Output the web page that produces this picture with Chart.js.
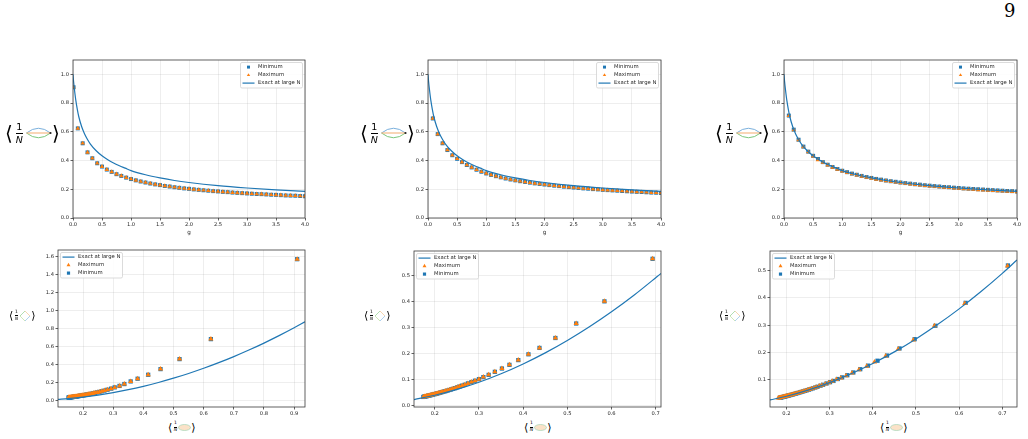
<!DOCTYPE html>
<html>
<head>
<meta charset="utf-8">
<script src="https://cdn.jsdelivr.net/npm/chart.js@4.4.1/dist/chart.umd.min.js"></script>
<style>
  body { margin:0; background:#fff; width:1028px; height:439px; overflow:hidden; position:relative; font-family:"DejaVu Sans", sans-serif; }
  .plot { position:absolute; }
  .lab { position:absolute; display:flex; align-items:center; color:#000; z-index:2; white-space:nowrap; }
  .frac { display:inline-flex; flex-direction:column; align-items:center; line-height:1; }
  .frac .bar { align-self:stretch; border-top:0.8px solid #000; }
  .big .br { font-size:20px; line-height:1; }
  .big .frac { font-size:9.5px; margin:0 2px 0 3px; }
  .big .bar { margin:1px 0; }
  .small .br { font-size:11px; line-height:1; }
  .small .frac { font-size:4.6px; margin:0 1px 0 1.5px; }
  .small .bar { margin:0.5px 0; border-top-width:0.5px; }
  #page { position:absolute; left:1004px; top:0px; font:18px "DejaVu Serif", serif; color:#000; }
</style>
</head>
<body>
<div id="page">9</div>
<div class="plot" id="w1"><canvas id="c1"></canvas></div>
<div class="plot" id="w2"><canvas id="c2"></canvas></div>
<div class="plot" id="w3"><canvas id="c3"></canvas></div>
<div class="plot" id="w4"><canvas id="c4"></canvas></div>
<div class="plot" id="w5"><canvas id="c5"></canvas></div>
<div class="plot" id="w6"><canvas id="c6"></canvas></div>
<script>
// ---- data ----
const gGrid = [0.083,0.167,0.25,0.333,0.417,0.5,0.583,0.667,0.75,0.833,0.917,1,
  1.083,1.167,1.25,1.333,1.417,1.5,1.583,1.667,1.75,1.833,1.917,2,
  2.083,2.167,2.25,2.333,2.417,2.5,2.583,2.667,2.75,2.833,2.917,3,
  3.083,3.167,3.25,3.333,3.417,3.5,3.583,3.667,3.75,3.833,3.917,4];
const gP1 = [0.01].concat(gGrid); // first panel has an extra point near g=0

// exact large N curve (top row)
const gExact = [0,0.01,0.025,0.05,0.075,0.1,0.15,0.2,0.25,0.3,0.4,0.5,0.6,0.7,0.8,0.9,1.0,1.25,1.5,1.75,2,2.5,3,3.5,4];
const vExact = [1.0,0.95,0.895,0.815,0.755,0.705,0.635,0.585,0.547,0.515,0.468,0.433,0.406,0.383,0.364,0.347,0.33,0.301,0.279,0.261,0.247,0.225,0.209,0.196,0.185];

// panel 1 (min and max coincide at this resolution)
const min1 = [0.91,0.624,0.520,0.457,0.416,0.381,0.358,0.337,0.321,0.305,0.293,0.281,
  0.271,0.262,0.254,0.247,0.240,0.234,0.229,0.223,0.219,0.214,0.210,0.206,0.203,0.199,
  0.196,0.193,0.190,0.187,0.185,0.182,0.180,0.177,0.175,0.173,0.171,0.169,0.167,0.166,
  0.164,0.162,0.161,0.159,0.157,0.156,0.155,0.153,0.152];
const max1 = min1;
// panel 2
const min2 = [0.693,0.584,0.520,0.473,0.437,0.412,0.389,0.369,0.352,0.336,0.322,0.310,
  0.300,0.291,0.283,0.275,0.268,0.262,0.256,0.251,0.246,0.241,0.237,0.233,0.229,0.225,
  0.222,0.218,0.215,0.212,0.209,0.206,0.204,0.201,0.199,0.196,0.194,0.192,0.190,0.188,
  0.186,0.184,0.182,0.181,0.179,0.177,0.176,0.174];
const max2 = min2;
// panel 3
const min3 = [.713,.615,.545,.497,.462,.433,.411,.389,.371,.355,.341,.329,.319,.309,.301,.293,
  .285,.279,.272,.267,.261,.256,.252,.247,.243,.239,.235,.232,.228,.225,.222,.219,.216,.214,
  .211,.209,.206,.204,.202,.200,.198,.196,.194,.192,.190,.188,.187,.185];
const max3 = [.712,.613,.543,.494,.459,.430,.404,.386,.368,.352,.338,.326,.316,.306,.298,.290,
  .282,.276,.269,.264,.258,.253,.249,.244,.240,.236,.232,.229,.225,.222,.219,.216,.213,.211,
  .208,.205,.202,.200,.198,.196,.194,.192,.190,.188,.186,.184,.183,.181];

// bottom row: x = bubble values above, y = diamond values
const y4 = [1.572,0.684,0.462,0.351,0.288,0.244,0.214,0.185,0.164,0.148,0.134,0.122,
  0.112,0.104,0.0978,0.0918,0.0870,0.0821,0.0783,0.0748,0.0717,0.0689,0.0663,0.0638,0.0616,
  0.0596,0.0577,0.0558,0.0542,0.0526,0.0512,0.0498,0.0484,0.0472,0.0460,0.0450,0.0439,0.0429,
  0.0420,0.0411,0.0402,0.0394,0.0386,0.0379,0.0372,0.0365,0.0358,0.0352,0.0346];
const y5 = [0.563,0.400,0.315,0.2595,0.2215,0.197,0.1748,0.1566,0.1425,0.1298,0.1182,0.1096,
  0.1017,0.0957,0.0905,0.0855,0.0804,0.0769,0.0734,0.0706,0.0672,0.0645,0.0623,0.0603,0.0582,
  0.0562,0.0547,0.0528,0.0513,0.0499,0.0485,0.0471,0.0462,0.0448,0.0440,0.0426,0.0418,0.0409,
  0.0401,0.0392,0.0384,0.0376,0.0368,0.0364,0.0356,0.0348,0.0344,0.0336];
const y6min = [.519,.382,.298,.249,.215,.189,.170,.152,.139,.127,.117,.109,.103,.096,.0915,.0867,
  .0820,.0786,.0747,.0720,.0688,.0662,.0641,.0616,.0596,.0577,.0558,.0544,.0525,.0511,.0498,.0485,
  .0472,.0463,.0450,.0441,.0429,.0420,.0412,.0404,.0396,.0388,.0380,.0372,.0365,.0357,.0353,.0346];
const y6max = [.517,.380,.298,.246,.213,.187,.165,.150,.137,.125,.115,.107,.101,.0946,.0897,.0849,
  .0803,.0770,.0731,.0704,.0672,.0646,.0626,.0601,.0582,.0563,.0544,.0530,.0511,.0498,.0485,.0471,
  .0458,.0450,.0437,.0424,.0412,.0404,.0396,.0388,.0380,.0372,.0365,.0357,.0349,.0342,.0338,.0331];

// exact curves (bottom row)
const cx4 = [0.117,0.15,0.2,0.25,0.3,0.35,0.4,0.45,0.5,0.55,0.6,0.65,0.7,0.75,0.8,0.85,0.9,0.936];
const cy4 = [0.0137,0.0225,0.04,0.0625,0.09,0.1225,0.16,0.2025,0.25,0.3025,0.36,0.4225,0.49,0.5625,0.64,0.7225,0.81,0.876];
const cx5 = [0.153,0.2,0.25,0.3,0.35,0.4,0.45,0.5,0.55,0.6,0.65,0.712];
const cy5 = [0.0234,0.04,0.0625,0.09,0.1225,0.16,0.2025,0.25,0.3025,0.36,0.4225,0.507];
const cx6 = [0.162,0.2,0.25,0.3,0.35,0.4,0.45,0.5,0.55,0.6,0.65,0.7,0.734];
const cy6 = [0.0262,0.04,0.0625,0.09,0.1225,0.16,0.2025,0.25,0.3025,0.36,0.4225,0.49,0.5388];

// tick labels
const topXTicks = [0,0.5,1,1.5,2,2.5,3,3.5,4];
const topYTicks = [0,0.2,0.4,0.6,0.8,1.0];
const x4Ticks = [0.2,0.3,0.4,0.5,0.6,0.7,0.8,0.9];
const y4Ticks = [0,0.2,0.4,0.6,0.8,1.0,1.2,1.4,1.6];
const x5Ticks = [0.2,0.3,0.4,0.5,0.6,0.7];
const y5Ticks = [0,0.1,0.2,0.3,0.4,0.5];
const x6Ticks = [0.2,0.3,0.4,0.5,0.6,0.7];
const y6Ticks = [0.1,0.2,0.3,0.4,0.5];

// ---- drawing ----
const BLUE = '#1f77b4', ORANGE = '#ff7f0e';
const YW = 30, PT = 8, PR = 11;
Chart.defaults.font.family = '"DejaVu Sans", sans-serif';

function pts(xs, ys) { return xs.map((x, i) => ({x: x, y: ys[i]})); }

const framePlugin = {
  id: 'frame',
  afterDatasetsDraw(chart) {
    const {ctx, chartArea: a} = chart;
    ctx.save();
    ctx.strokeStyle = '#3a3a3a';
    ctx.lineWidth = 0.8;
    ctx.strokeRect(a.left, a.top, a.right - a.left, a.bottom - a.top);
    ctx.restore();
  }
};

const legendPlugin = {
  id: 'boxLegend',
  afterDraw(chart, args, o) {
    const {ctx, chartArea: a} = chart;
    const ds = chart.data.datasets;
    const w = 62, h = 25.5;
    const x0 = o.side === 'right' ? a.right - 2.5 - w : a.left + 2.5;
    const y0 = a.top + 2.5;
    ctx.save();
    ctx.beginPath();
    ctx.roundRect(x0, y0, w, h, 1.5);
    ctx.fillStyle = 'rgba(255,255,255,0.85)';
    ctx.fill();
    ctx.strokeStyle = '#d2d2d2';
    ctx.lineWidth = 0.8;
    ctx.stroke();
    ctx.font = '5.3px "DejaVu Sans"';
    ctx.textBaseline = 'middle';
    ds.forEach((d, i) => {
      const cy = y0 + 4.6 + i * 8;
      if (d.type === 'line') {
        ctx.strokeStyle = d.borderColor;
        ctx.lineWidth = 1.2;
        ctx.beginPath(); ctx.moveTo(x0 + 2, cy); ctx.lineTo(x0 + 14, cy); ctx.stroke();
      } else {
        ctx.fillStyle = d.backgroundColor;
        ctx.strokeStyle = d.backgroundColor;
        Chart.helpers.drawPoint(ctx, {pointStyle: d.pointStyle, radius: d.pointRadius * 0.75, rotation: 0, borderWidth: 0}, x0 + 8, cy);
      }
      ctx.fillStyle = '#222';
      ctx.fillText(d.label, x0 + 17.5, cy);
    });
    ctx.restore();
  }
};

function minSet(xs, ys, r) {
  return {label: 'Minimum', data: pts(xs, ys), pointStyle: 'rect', pointRadius: r,
          backgroundColor: BLUE, borderWidth: 0, order: 2};
}
function maxSet(xs, ys, r) {
  return {label: 'Maximum', data: pts(xs, ys), pointStyle: 'triangle', pointRadius: r,
          backgroundColor: ORANGE, borderWidth: 0, order: 1};
}
function exactSet(xs, ys) {
  return {type: 'line', label: 'Exact at large N', data: pts(xs, ys), borderColor: BLUE,
          borderWidth: 1.2, pointRadius: 0, cubicInterpolationMode: 'monotone', fill: false, order: 0};
}

function axis(range, ticks, fitFn, title) {
  return {
    type: 'linear', min: range[0], max: range[1],
    afterBuildTicks: s => { s.ticks = ticks.map(v => ({value: v})); },
    afterFit: fitFn,
    ticks: {font: {size: 5.2}, color: '#262626', padding: 1.5, autoSkip: false, maxRotation: 0,
            callback: v => Number(v).toFixed(1)},
    grid: {color: 'rgba(0,0,0,0.085)', lineWidth: 0.8, drawTicks: true, tickLength: 2.5,
           tickColor: '#3a3a3a', tickWidth: 0.8},
    border: {display: false},
    title: title ? {display: true, text: title, font: {size: 5.6}, color: '#222', padding: 0} : {display: false}
  };
}

function makeChart(n, area, xh, xr, yr, xt, yt, datasets, side, xTitle) {
  const wrap = document.getElementById('w' + n);
  const cv = document.getElementById('c' + n);
  const left = area[0] - YW, top = area[1] - PT;
  const w = area[2] - area[0] + YW + PR, h = area[3] - area[1] + PT + xh;
  wrap.style.left = left + 'px'; wrap.style.top = top + 'px';
  cv.width = w; cv.height = h; cv.style.width = w + 'px'; cv.style.height = h + 'px';
  new Chart(cv, {
    type: 'scatter',
    data: {datasets: datasets},
    options: {
      responsive: false, animation: false, devicePixelRatio: 1,
      layout: {padding: {top: PT, right: PR, left: 0, bottom: 0}},
      plugins: {legend: {display: false}, tooltip: {enabled: false}, boxLegend: {side: side}},
      scales: {
        x: axis(xr, xt, s => { s.height = xh; }, xTitle),
        y: axis(yr, yt, s => { s.width = YW; })
      }
    },
    plugins: [framePlugin, legendPlugin]
  });
}

// top row
makeChart(1, [73, 60, 305, 218], 18, [0, 4], [0, 1.1], topXTicks, topYTicks,
  [minSet(gP1, min1, 2.8), maxSet(gP1, max1, 2.6), exactSet(gExact, vExact)], 'right', 'g');
makeChart(2, [428, 60, 661, 218], 18, [0, 4], [0, 1.1], topXTicks, topYTicks,
  [minSet(gGrid, min2, 2.8), maxSet(gGrid, max2, 2.6), exactSet(gExact, vExact)], 'right', 'g');
makeChart(3, [784, 60, 1017, 218], 18, [0, 4], [0, 1.1], topXTicks, topYTicks,
  [minSet(gGrid, min3, 2.8), maxSet(gGrid, max3, 2.6), exactSet(gExact, vExact)], 'right', 'g');
// bottom row
makeChart(4, [58, 250, 305, 407], 12, [0.117, 0.936], [-0.070, 1.674], x4Ticks, y4Ticks,
  [exactSet(cx4, cy4), maxSet(min1, y4, 3.0), minSet(min1, y4, 3.0)], 'left');
makeChart(5, [414, 251, 661, 407], 12, [0.153, 0.712], [-0.005, 0.593], x5Ticks, y5Ticks,
  [exactSet(cx5, cy5), maxSet(min2, y5, 3.0), minSet(min2, y5, 3.0)], 'left');
makeChart(6, [770, 251, 1017, 407], 12, [0.162, 0.734], [0.0005, 0.572], x6Ticks, y6Ticks,
  [exactSet(cx6, cy6), maxSet(max3, y6max, 3.0), minSet(min3, y6min, 3.0)], 'left');

// ---- axis labels with diagram glyphs ----
const bubbleBig = '<svg width="27" height="14" viewBox="0 0 27 14">' +
  '<path d="M1.5 7 Q13.5 -2.5 25.5 7" fill="none" stroke="#6aa6d8" stroke-width="0.9"/>' +
  '<path d="M1.5 7 Q13.5 16.5 25.5 7" fill="none" stroke="#6cbf6c" stroke-width="0.9"/>' +
  '<line x1="1.5" y1="7" x2="25.5" y2="7" stroke="#f4b27a" stroke-width="1.1"/>' +
  '<circle cx="25.5" cy="7" r="1.1" fill="#222"/></svg>';
const diamond = '<svg width="12" height="12" viewBox="0 0 12 12">' +
  '<line x1="1" y1="6" x2="6" y2="1" stroke="#8fd08f" stroke-width="0.7"/>' +
  '<line x1="6" y1="1" x2="11" y2="6" stroke="#f2c48e" stroke-width="0.7"/>' +
  '<line x1="11" y1="6" x2="6" y2="11" stroke="#8dbde6" stroke-width="0.7"/>' +
  '<line x1="6" y1="11" x2="1" y2="6" stroke="#b9dc9a" stroke-width="0.7"/></svg>';
const bubbleSmall = '<svg width="13" height="7" viewBox="0 0 13 7">' +
  '<ellipse cx="6.5" cy="3.5" rx="6" ry="3" fill="#fbe2c8" stroke="#a3d4b4" stroke-width="0.7"/></svg>';

function addLabel(cls, x, cy, h, glyph) {
  const d = document.createElement('div');
  d.className = 'lab ' + cls;
  d.style.left = x + 'px';
  d.style.top = (cy - h / 2) + 'px';
  d.style.height = h + 'px';
  d.innerHTML = '<span class="br">\u27E8</span><span class="frac"><span>1</span><span class="bar"></span><span><i>N</i></span></span>' +
    glyph + '<span class="br">\u27E9</span>';
  document.body.appendChild(d);
}
[5, 360, 715].forEach(x => addLabel('big', x, 133, 22, bubbleBig));
[9, 364, 719].forEach(x => addLabel('small', x, 315.5, 12, diamond));
[168, 524, 880].forEach(x => addLabel('small', x, 427, 12, bubbleSmall));
</script>
</body>
